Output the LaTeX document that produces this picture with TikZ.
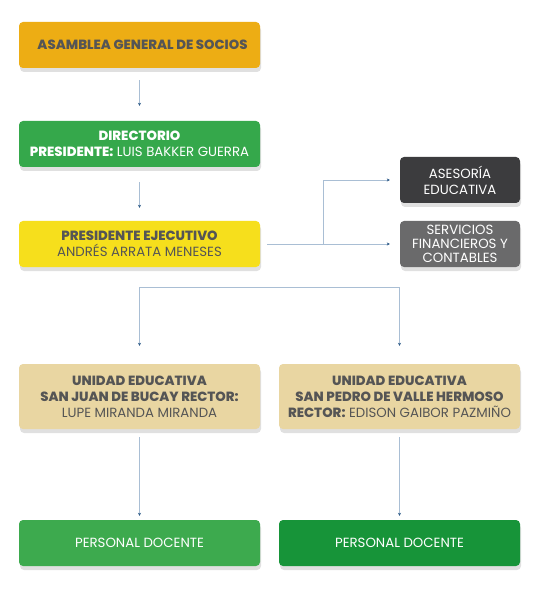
\documentclass[tikz,border=0pt]{standalone}
\usepackage{fontspec}
\setmainfont{Poppins}[BoldFont={Poppins ExtraBold}]
\usetikzlibrary{arrows.meta,shadows}
\definecolor{cOrange}{HTML}{EDAD14}
\definecolor{cGreen}{HTML}{35A84B}
\definecolor{cYellow}{HTML}{F6DF1C}
\definecolor{cDark}{HTML}{3C3C3E}
\definecolor{cGray}{HTML}{6A6A6B}
\definecolor{cTan}{HTML}{E9D6A2}
\definecolor{cGreenL}{HTML}{3DAA4E}
\definecolor{cGreenD}{HTML}{179439}
\definecolor{cText}{HTML}{555555}
\definecolor{cLine}{HTML}{A9BED4}
\definecolor{cTip}{HTML}{2D5A88}
\tikzset{
  box/.style={rounded corners=4pt, minimum width=241pt, minimum height=46pt,
    align=center, inner sep=0pt, font=\fontsize{13.3}{16}\selectfont,
    drop shadow={shadow xshift=1pt, shadow yshift=-4pt, opacity=0.12, fill=black}},
  sbox/.style={box, minimum width=120pt},
  arr/.style={draw=cLine, line width=0.9pt, -{Stealth[length=3pt,width=3pt,color=cTip]}},
  ln/.style={draw=cLine, line width=0.9pt}
}
\begin{document}
\begin{tikzpicture}[x=1pt,y=-1pt]
\useasboundingbox[fill=white] (0,0) rectangle (545,593);
\node[box, fill=cOrange, text=cText] (a) at (139.5,45) {\hspace*{6pt}\textbf{ASAMBLEA GENERAL DE SOCIOS}};
\node[box, fill=cGreen, text=white] (b) at (139.5,144) {\textbf{DIRECTORIO}\\\textbf{PRESIDENTE:} LUIS BAKKER GUERRA};
\node[box, fill=cYellow, text=cText] (c) at (139.5,244) {\textbf{PRESIDENTE EJECUTIVO}\\ANDRÉS ARRATA MENESES};
\node[sbox, fill=cDark, text=white] (d) at (460,180) {ASESORÍA\\EDUCATIVA};
\node[sbox, fill=cGray, text=white, font=\fontsize{13.3}{14}\selectfont] (e) at (460,244) {SERVICIOS\\FINANCIEROS Y\\CONTABLES};
\node[box, fill=cTan, text=cText, minimum height=65pt] (f) at (139.5,396.5) {\textbf{UNIDAD EDUCATIVA}\\\textbf{SAN JUAN DE BUCAY RECTOR:}\\LUPE MIRANDA MIRANDA};
\node[box, fill=cTan, text=cText, minimum height=65pt] (g) at (399.5,396.5) {\textbf{UNIDAD EDUCATIVA}\\\textbf{SAN PEDRO DE VALLE HERMOSO}\\\textbf{RECTOR:} EDISON GAIBOR PAZMIÑO};
\node[box, fill=cGreenL, text=white] (h) at (139.5,543) {PERSONAL DOCENTE};
\node[box, fill=cGreenD, text=white] (i) at (399.5,543) {PERSONAL DOCENTE};
% connectors
\draw[arr] ([yshift=-12pt]a.south) -- ([yshift=15pt]b.north);
\draw[arr] ([yshift=-15pt]b.south) -- ([yshift=13pt]c.north);
\coordinate (cj) at ([xshift=63pt]c.east);
\draw[ln] ([xshift=7pt]c.east) -- (cj);
\draw[arr] (cj) |- ([xshift=-10pt]d.west);
\draw[arr] (cj) -- ([xshift=-10pt]e.west);
\coordinate (fk) at ([yshift=-20pt]c.south);
\draw[arr] (fk) -- ([yshift=18pt]f.north);
\draw[arr] (fk) -| ([yshift=18pt]g.north);
\draw[arr] ([yshift=-8pt]f.south) -- ([yshift=4pt]h.north);
\draw[arr] ([yshift=-8pt]g.south) -- ([yshift=4pt]i.north);
\end{tikzpicture}
\end{document}
